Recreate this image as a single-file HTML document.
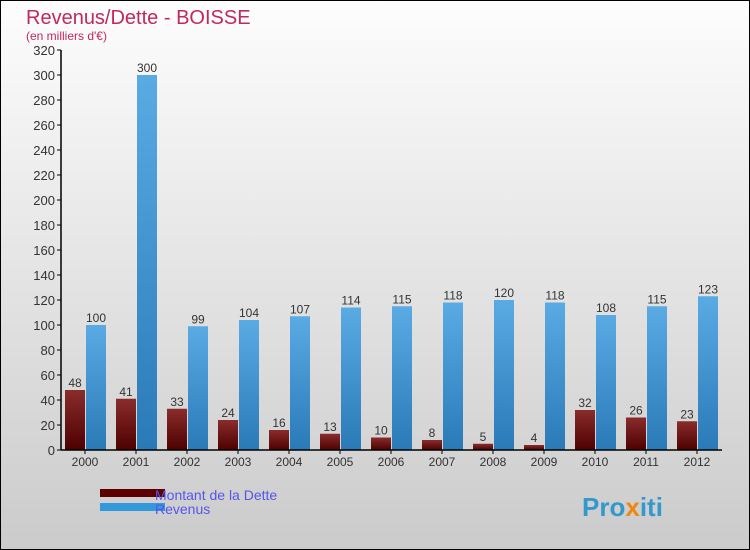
<!DOCTYPE html>
<html><head><meta charset="utf-8"><style>
body{margin:0}
#c{width:748px;height:548px;border:1px solid #000;background:linear-gradient(#fdfdfd,#cbcbcb);position:relative;font-family:"Liberation Sans",sans-serif;overflow:hidden}
</style></head><body>
<div id="c">
<svg width="748" height="548" viewBox="1 1 748 548" style="position:absolute;left:0;top:0">
<defs>
<linearGradient id="gd" x1="0" y1="0" x2="0" y2="1"><stop offset="0" stop-color="#8a2c2c"/><stop offset="1" stop-color="#4e0000"/></linearGradient>
<linearGradient id="gr" x1="0" y1="0" x2="0" y2="1"><stop offset="0" stop-color="#5aaae4"/><stop offset="1" stop-color="#2a7ab8"/></linearGradient>
</defs>
<text x="26" y="24" font-size="20" fill="#c3285d">Revenus/Dette - BOISSE</text>
<text x="26" y="40" font-size="12" fill="#c3285d">(en milliers d'€)</text>
<g id="plot"></g>
<rect x="100" y="489" width="65" height="8" fill="#5c0000"/>
<rect x="100" y="503" width="65" height="8" fill="#3399dd"/>
<text x="155" y="500" font-size="14" fill="#5555ee">Montant de la Dette</text>
<text x="155" y="514" font-size="14" fill="#5555ee">Revenus</text>
<text x="582" y="516" font-size="26" font-weight="bold" fill="#3399cc">Pro<tspan fill="#ee8811">x</tspan>iti</text>
</svg>
</div>
<script>
const years=["2000","2001","2002","2003","2004","2005","2006","2007","2008","2009","2010","2011","2012"];
const dette=[48,41,33,24,16,13,10,8,5,4,32,26,23];
const revenus=[100,300,99,104,107,114,115,118,120,118,108,115,123];
const ticks=[0,20,40,60,80,100,120,140,160,180,200,220,240,260,280,300,320];
const NS="http://www.w3.org/2000/svg";
const g=document.getElementById('plot');
const y=v=>450-v*1.25;
const xc=i=>85+i*51;
function mk(t,a){const e=document.createElementNS(NS,t);for(const k in a)e.setAttribute(k,a[k]);g.appendChild(e);return e;}
ticks.forEach(t=>{
 const l=mk('line',{x1:57,x2:61,y1:y(t),y2:y(t),stroke:'#000'});
 
 
 const tx=mk('text',{x:55,y:y(t)+5,'font-size':13,'text-anchor':'end',fill:'#333'});
 tx.textContent=t;
 
 
});
years.forEach((yr,i)=>{
 const c=xc(i);
 const b1=mk('rect',{x:c-20,y:y(dette[i]),width:20,height:dette[i]*1.25,fill:'url(#gd)'});
 
 
 const b2=mk('rect',{x:c+1,y:y(revenus[i]),width:20,height:revenus[i]*1.25,fill:'url(#gr)'});
 
 
 const t1=mk('text',{x:c-10,y:y(dette[i])-3,'font-size':12,'text-anchor':'middle',fill:'#333'});
 t1.textContent=dette[i];
 
 
 const t2=mk('text',{x:c+11,y:y(revenus[i])-3,'font-size':12,'text-anchor':'middle',fill:'#333'});
 t2.textContent=revenus[i];
 
 
 const tk=mk('line',{x1:c,x2:c,y1:450,y2:454,stroke:'#000'});
 
 
 const xl=mk('text',{x:c,y:466,'font-size':12,'text-anchor':'middle',fill:'#333'});
 xl.textContent=yr;
 
 
});
const ax=mk('line',{x1:61,x2:61,y1:50,y2:450,stroke:'#000','stroke-width':1.5});


const xa=mk('line',{x1:61,x2:722,y1:450,y2:450,stroke:'#000','stroke-width':1.5});


</script>
</body></html>
